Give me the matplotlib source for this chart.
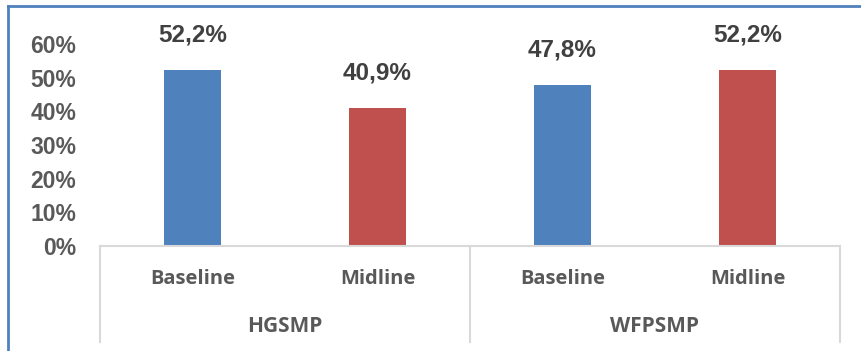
import matplotlib.pyplot as plt
from matplotlib.lines import Line2D

groups = ['HGSMP', 'WFPSMP']
phases = ['Baseline', 'Midline', 'Baseline', 'Midline']
values = [0.522, 0.409, 0.478, 0.522]
colors = ['#4f81bd', '#c0504d', '#4f81bd', '#c0504d']
yticks = [0, 0.1, 0.2, 0.3, 0.4, 0.5, 0.6]

W, H = 861, 351
fig = plt.figure(figsize=(W / 100, H / 100), dpi=100)
ax = fig.add_axes([100 / W, (H - 246) / H, 740 / W, 202 / H])

x = list(range(len(values)))
ax.bar(x, values, width=0.31, color=colors)
ax.set_xlim(-0.5, len(values) - 0.5)
ax.set_ylim(0, 0.6)

for xi, v in zip(x, values):
    ax.annotate(f"{v * 100:.1f}%".replace('.', ','), (xi, v), xytext=(0, 25.5),
                textcoords='offset points', ha='center', va='center',
                fontsize=17.5, fontweight='bold', color='#404040',
                family='Liberation Sans', annotation_clip=False)

ax.set_yticks(yticks)
ax.set_yticklabels([f"{int(t * 100)}%" for t in yticks], fontsize=16.5,
                   fontweight='bold', color='#595959', family='Liberation Sans')
ax.tick_params(axis='y', length=0, pad=17)
ax.set_xticks([])
for s in ax.spines.values():
    s.set_visible(False)

# category box below the plot
grid = '#d9d9d9'
tr = ax.get_xaxis_transform()
ax.plot([-0.5, len(values) - 0.5], [0, 0], color=grid, lw=1.5, transform=tr, clip_on=False)
for xv in [-0.5, 1.5, 3.5]:
    ax.plot([xv, xv], [0, -0.475], color=grid, lw=1.5, transform=tr, clip_on=False)

for xi, p in zip(x, phases):
    ax.text(xi, -0.165, p, transform=tr, ha='center', va='center',
            fontsize=14.5, fontweight='bold', color='#595959', family='Open Sans')
for gi, g in enumerate(groups):
    ax.text(gi * 2 + 0.5, -0.40, g, transform=tr, ha='center', va='center',
            fontsize=15, fontweight='bold', color='#595959', family='Open Sans')

# outer frame, top and left edges only
frame = '#4f81bd'
fig.add_artist(Line2D([8 / W, 1], [1 - 6 / H, 1 - 6 / H], color=frame, lw=2,
                      transform=fig.transFigure))
fig.add_artist(Line2D([8 / W, 8 / W], [0, 1 - 6 / H], color=frame, lw=2,
                      transform=fig.transFigure))

fig.savefig('out.png', dpi=100)
